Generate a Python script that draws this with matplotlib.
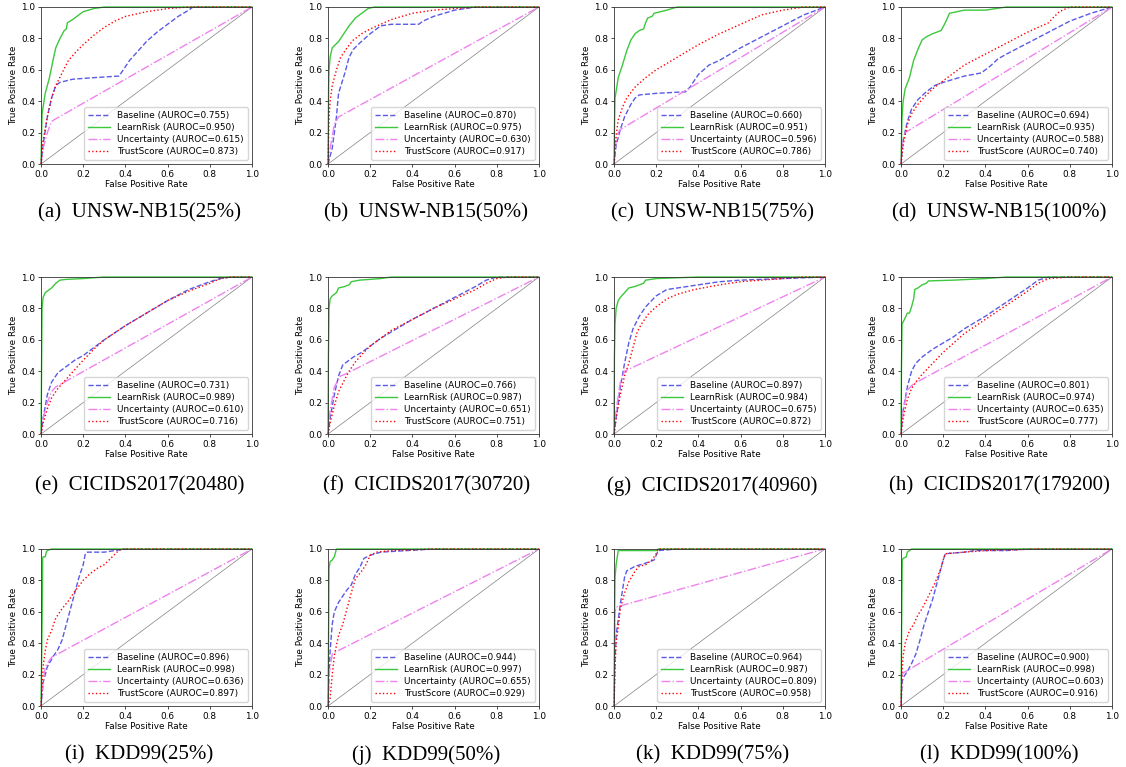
import matplotlib.pyplot as plt
import numpy as np

plt.rcParams['font.family'] = 'DejaVu Sans'

captions = ['(a)  UNSW-NB15(25%)', '(b)  UNSW-NB15(50%)', '(c)  UNSW-NB15(75%)', '(d)  UNSW-NB15(100%)',
            '(e)  CICIDS2017(20480)', '(f)  CICIDS2017(30720)', '(g)  CICIDS2017(40960)', '(h)  CICIDS2017(179200)',
            '(i)  KDD99(25%)', '(j)  KDD99(50%)', '(k)  KDD99(75%)', '(l)  KDD99(100%)']

auroc_base = [0.755, 0.870, 0.660, 0.694, 0.731, 0.766, 0.897, 0.801, 0.896, 0.944, 0.964, 0.900]
auroc_risk = [0.950, 0.975, 0.951, 0.935, 0.989, 0.987, 0.984, 0.974, 0.998, 0.997, 0.987, 0.998]
auroc_unc = [0.615, 0.630, 0.596, 0.588, 0.610, 0.651, 0.675, 0.635, 0.636, 0.655, 0.809, 0.603]
auroc_trust = [0.873, 0.917, 0.786, 0.740, 0.716, 0.751, 0.872, 0.777, 0.897, 0.929, 0.958, 0.916]

# ROC points (fpr, tpr)
# (a) UNSW-NB15 25%
a_base = [(0, 0), (0.01, 0.12), (0.03, 0.3), (0.05, 0.42), (0.07, 0.5), (0.09, 0.52), (0.15, 0.54), (0.25, 0.55),
          (0.37, 0.56), (0.38, 0.58), (0.42, 0.66), (0.5, 0.78), (0.55, 0.84), (0.6, 0.89), (0.65, 0.94), (0.7, 0.98),
          (0.72, 1.0), (1, 1)]
a_risk = [(0, 0), (0.003, 0.2), (0.005, 0.32), (0.02, 0.45), (0.04, 0.55), (0.06, 0.68), (0.07, 0.74), (0.09, 0.8),
          (0.11, 0.85), (0.12, 0.86), (0.125, 0.9), (0.15, 0.92), (0.18, 0.95), (0.2, 0.97), (0.25, 0.99), (0.3, 1.0), (1, 1)]
a_unc = [(0, 0), (0.01, 0.1), (0.03, 0.2), (0.05, 0.27), (0.06, 0.28), (1, 1)]
a_trust = [(0, 0), (0.01, 0.15), (0.03, 0.3), (0.05, 0.42), (0.07, 0.5), (0.1, 0.58), (0.13, 0.66), (0.17, 0.72),
           (0.2, 0.76), (0.25, 0.82), (0.3, 0.87), (0.35, 0.91), (0.4, 0.94), (0.5, 0.97), (0.6, 0.99), (0.7, 1.0), (1, 1)]

# (b) UNSW-NB15 50%
b_base = [(0, 0), (0.02, 0.1), (0.04, 0.3), (0.05, 0.45), (0.08, 0.58), (0.1, 0.68), (0.12, 0.73), (0.15, 0.77),
          (0.2, 0.83), (0.25, 0.88), (0.3, 0.89), (0.43, 0.89), (0.45, 0.91), (0.5, 0.94), (0.55, 0.96), (0.6, 0.98),
          (0.65, 0.99), (0.7, 1.0), (1, 1)]
b_risk = [(0, 0), (0.003, 0.5), (0.005, 0.6), (0.01, 0.68), (0.02, 0.74), (0.05, 0.78), (0.07, 0.82), (0.1, 0.88),
          (0.13, 0.93), (0.17, 0.97), (0.19, 0.99), (0.22, 1.0), (1, 1)]
b_unc = [(0, 0), (0.01, 0.1), (0.03, 0.25), (0.05, 0.3), (1, 1)]
b_trust = [(0, 0), (0.005, 0.3), (0.01, 0.4), (0.02, 0.5), (0.04, 0.6), (0.06, 0.68), (0.09, 0.74), (0.12, 0.79),
           (0.16, 0.83), (0.2, 0.86), (0.25, 0.89), (0.3, 0.92), (0.35, 0.94), (0.4, 0.96), (0.5, 0.98), (0.6, 0.99),
           (0.7, 1.0), (1, 1)]

# (c) UNSW-NB15 75%
c_base = [(0, 0), (0.01, 0.12), (0.03, 0.22), (0.05, 0.3), (0.08, 0.38), (0.1, 0.42), (0.12, 0.44), (0.2, 0.45),
          (0.34, 0.46), (0.36, 0.49), (0.4, 0.57), (0.45, 0.63), (0.5, 0.66), (0.6, 0.74), (0.7, 0.81), (0.8, 0.88),
          (0.9, 0.95), (1, 1)]
c_risk = [(0, 0), (0.003, 0.3), (0.005, 0.42), (0.02, 0.55), (0.04, 0.63), (0.06, 0.72), (0.08, 0.79), (0.1, 0.83),
          (0.12, 0.85), (0.14, 0.86), (0.15, 0.9), (0.16, 0.93), (0.18, 0.94), (0.19, 0.96), (0.22, 0.97), (0.25, 0.98),
          (0.3, 1.0), (1, 1)]
c_unc = [(0, 0), (0.01, 0.15), (0.02, 0.2), (0.03, 0.22), (1, 1)]
c_trust = [(0, 0), (0.01, 0.18), (0.02, 0.28), (0.04, 0.36), (0.06, 0.42), (0.1, 0.49), (0.15, 0.55), (0.2, 0.6),
           (0.3, 0.68), (0.4, 0.76), (0.5, 0.83), (0.6, 0.89), (0.7, 0.95), (0.8, 0.98), (0.9, 1.0), (1, 1)]

# (d) UNSW-NB15 100%
d_base = [(0, 0), (0.01, 0.15), (0.03, 0.27), (0.05, 0.35), (0.08, 0.41), (0.12, 0.46), (0.16, 0.5), (0.2, 0.52),
          (0.3, 0.56), (0.38, 0.58), (0.42, 0.62), (0.46, 0.67), (0.5, 0.7), (0.6, 0.77), (0.7, 0.84), (0.8, 0.91),
          (0.9, 0.96), (1, 1)]
d_risk = [(0, 0), (0.003, 0.2), (0.005, 0.3), (0.01, 0.4), (0.02, 0.48), (0.04, 0.55), (0.06, 0.66), (0.08, 0.73),
          (0.1, 0.79), (0.12, 0.81), (0.15, 0.83), (0.19, 0.85), (0.21, 0.9), (0.23, 0.96), (0.3, 0.98), (0.4, 0.98),
          (0.45, 0.99), (0.5, 1.0), (1, 1)]
d_unc = [(0, 0), (0.005, 0.12), (0.02, 0.2), (1, 1)]
d_trust = [(0, 0), (0.01, 0.12), (0.03, 0.25), (0.05, 0.32), (0.08, 0.38), (0.12, 0.44), (0.16, 0.49), (0.2, 0.53),
           (0.25, 0.58), (0.3, 0.63), (0.4, 0.7), (0.5, 0.77), (0.6, 0.84), (0.7, 0.9), (0.72, 0.93), (0.75, 0.97),
           (0.8, 1.0), (1, 1)]

# (e) CICIDS2017 20480
e_base = [(0, 0), (0.01, 0.1), (0.03, 0.25), (0.05, 0.33), (0.08, 0.39), (0.12, 0.43), (0.16, 0.47), (0.2, 0.5),
          (0.25, 0.55), (0.3, 0.6), (0.4, 0.69), (0.5, 0.77), (0.6, 0.85), (0.7, 0.92), (0.8, 0.97), (0.85, 0.99),
          (0.9, 1.0), (1, 1)]
e_risk = [(0, 0), (0.002, 0.3), (0.005, 0.8), (0.01, 0.87), (0.02, 0.9), (0.03, 0.91), (0.05, 0.93), (0.07, 0.96),
          (0.09, 0.98), (0.12, 0.985), (0.2, 0.99), (0.3, 1.0), (1, 1)]
e_unc = [(0, 0), (0.01, 0.1), (0.03, 0.2), (0.05, 0.27), (0.07, 0.3), (1, 1)]
e_trust = [(0, 0), (0.01, 0.07), (0.03, 0.16), (0.05, 0.23), (0.08, 0.29), (0.12, 0.35), (0.16, 0.41), (0.2, 0.47),
           (0.25, 0.54), (0.3, 0.6), (0.4, 0.69), (0.5, 0.77), (0.6, 0.85), (0.7, 0.91), (0.8, 0.96), (0.85, 0.99),
           (0.9, 1.0), (1, 1)]

# (f) CICIDS2017 30720
f_base = [(0, 0), (0.01, 0.1), (0.03, 0.25), (0.05, 0.37), (0.07, 0.44), (0.09, 0.46), (0.12, 0.49), (0.16, 0.52),
          (0.2, 0.56), (0.25, 0.61), (0.3, 0.65), (0.4, 0.73), (0.5, 0.8), (0.6, 0.87), (0.7, 0.94), (0.75, 0.98),
          (0.8, 1.0), (1, 1)]
f_risk = [(0, 0), (0.002, 0.5), (0.005, 0.8), (0.01, 0.86), (0.02, 0.88), (0.04, 0.9), (0.05, 0.93), (0.08, 0.94),
          (0.1, 0.95), (0.11, 0.97), (0.15, 0.98), (0.25, 0.99), (0.3, 1.0), (1, 1)]
f_unc = [(0, 0), (0.01, 0.15), (0.03, 0.3), (0.06, 0.37), (0.08, 0.38), (1, 1)]
f_trust = [(0, 0), (0.01, 0.07), (0.03, 0.18), (0.05, 0.27), (0.08, 0.35), (0.1, 0.4), (0.13, 0.46), (0.17, 0.52),
           (0.2, 0.56), (0.25, 0.61), (0.3, 0.66), (0.4, 0.73), (0.5, 0.8), (0.6, 0.86), (0.7, 0.92), (0.75, 0.96),
           (0.8, 0.99), (0.85, 1.0), (1, 1)]

# (g) CICIDS2017 40960
g_base = [(0, 0), (0.01, 0.1), (0.02, 0.2), (0.03, 0.3), (0.05, 0.45), (0.07, 0.58), (0.09, 0.67), (0.12, 0.75),
          (0.15, 0.81), (0.2, 0.88), (0.25, 0.92), (0.3, 0.93), (0.4, 0.95), (0.5, 0.97), (0.6, 0.98), (0.8, 0.99), (1, 1)]
g_risk = [(0, 0), (0.002, 0.5), (0.005, 0.7), (0.01, 0.8), (0.02, 0.85), (0.03, 0.87), (0.05, 0.9), (0.07, 0.93),
          (0.1, 0.94), (0.12, 0.95), (0.14, 0.96), (0.15, 0.98), (0.2, 0.99), (0.4, 1.0), (1, 1)]
g_unc = [(0, 0), (0.01, 0.15), (0.03, 0.33), (0.05, 0.4), (1, 1)]
g_trust = [(0, 0), (0.01, 0.1), (0.03, 0.25), (0.05, 0.37), (0.07, 0.45), (0.09, 0.55), (0.11, 0.65), (0.13, 0.7),
           (0.16, 0.76), (0.2, 0.81), (0.25, 0.86), (0.3, 0.89), (0.38, 0.92), (0.5, 0.95), (0.6, 0.97), (0.7, 0.98),
           (0.8, 0.99), (0.9, 1.0), (1, 1)]

# (h) CICIDS2017 179200
h_base = [(0, 0), (0.01, 0.15), (0.03, 0.3), (0.05, 0.4), (0.07, 0.45), (0.1, 0.49), (0.15, 0.54), (0.2, 0.58),
          (0.25, 0.62), (0.3, 0.67), (0.4, 0.75), (0.5, 0.84), (0.6, 0.93), (0.65, 0.98), (0.7, 1.0), (1, 1)]
h_risk = [(0, 0), (0.002, 0.4), (0.005, 0.7), (0.02, 0.74), (0.03, 0.77), (0.04, 0.77), (0.05, 0.81), (0.06, 0.86),
          (0.065, 0.92), (0.08, 0.93), (0.1, 0.95), (0.12, 0.96), (0.13, 0.975), (0.25, 0.98), (0.4, 0.99), (0.5, 1.0), (1, 1)]
h_unc = [(0, 0), (0.01, 0.15), (0.03, 0.28), (0.06, 0.32), (1, 1)]
h_trust = [(0, 0), (0.01, 0.1), (0.03, 0.22), (0.05, 0.29), (0.07, 0.33), (0.1, 0.38), (0.15, 0.45), (0.2, 0.52),
           (0.25, 0.58), (0.3, 0.64), (0.4, 0.73), (0.5, 0.82), (0.6, 0.91), (0.65, 0.96), (0.7, 0.99), (0.8, 1.0), (1, 1)]

# (i) KDD99 25%
i_base = [(0, 0), (0.01, 0.15), (0.03, 0.25), (0.06, 0.32), (0.08, 0.36), (0.1, 0.42), (0.12, 0.52), (0.14, 0.62),
          (0.16, 0.72), (0.18, 0.82), (0.2, 0.9), (0.21, 0.97), (0.22, 0.98), (0.3, 0.98), (0.35, 0.99), (0.4, 1.0), (1, 1)]
i_risk = [(0, 0), (0.005, 0.5), (0.008, 0.94), (0.01, 0.95), (0.02, 0.95), (0.025, 0.98), (0.03, 0.99), (0.05, 1.0), (1, 1)]
i_unc = [(0, 0), (0.01, 0.15), (0.02, 0.25), (0.05, 0.31), (1, 1)]
i_trust = [(0, 0), (0.01, 0.25), (0.02, 0.35), (0.03, 0.42), (0.05, 0.48), (0.07, 0.56), (0.1, 0.62), (0.13, 0.67),
           (0.16, 0.73), (0.2, 0.8), (0.23, 0.84), (0.27, 0.88), (0.3, 0.9), (0.33, 0.94), (0.36, 0.98), (0.38, 1.0), (1, 1)]

# (j) KDD99 50%
j_base = [(0, 0), (0.005, 0.2), (0.01, 0.35), (0.02, 0.52), (0.03, 0.6), (0.05, 0.66), (0.07, 0.7), (0.09, 0.74),
          (0.11, 0.77), (0.13, 0.84), (0.15, 0.88), (0.17, 0.94), (0.2, 0.96), (0.25, 0.98), (0.5, 1.0), (1, 1)]
j_risk = [(0, 0), (0.003, 0.5), (0.005, 0.88), (0.01, 0.92), (0.02, 0.93), (0.03, 0.95), (0.04, 1.0), (1, 1)]
j_unc = [(0, 0), (0.005, 0.2), (0.02, 0.33), (0.03, 0.34), (1, 1)]
j_trust = [(0, 0), (0.01, 0.05), (0.02, 0.2), (0.03, 0.32), (0.05, 0.45), (0.07, 0.52), (0.09, 0.62), (0.11, 0.72),
           (0.13, 0.81), (0.16, 0.86), (0.18, 0.9), (0.2, 0.96), (0.23, 0.98), (0.3, 0.99), (0.5, 1.0), (1, 1)]

# (k) KDD99 75%
k_base = [(0, 0), (0.005, 0.3), (0.01, 0.45), (0.02, 0.55), (0.03, 0.65), (0.05, 0.82), (0.06, 0.86), (0.1, 0.89),
          (0.15, 0.91), (0.19, 0.93), (0.2, 0.96), (0.21, 0.99), (0.3, 1.0), (1, 1)]
k_risk = [(0, 0), (0.003, 0.6), (0.005, 0.82), (0.01, 0.9), (0.02, 0.99), (0.2, 0.99), (0.21, 1.0), (1, 1)]
k_unc = [(0, 0), (0.005, 0.6), (0.01, 0.63), (0.97, 0.99), (1, 1)]
k_trust = [(0, 0), (0.005, 0.25), (0.01, 0.4), (0.02, 0.5), (0.03, 0.62), (0.05, 0.72), (0.07, 0.79), (0.1, 0.86),
           (0.12, 0.89), (0.15, 0.9), (0.18, 0.93), (0.2, 0.97), (0.21, 1.0), (1, 1)]

# (l) KDD99 100%
l_base = [(0, 0), (0.005, 0.15), (0.01, 0.18), (0.03, 0.22), (0.05, 0.27), (0.07, 0.33), (0.09, 0.42), (0.11, 0.52),
          (0.13, 0.6), (0.15, 0.68), (0.17, 0.78), (0.19, 0.88), (0.2, 0.93), (0.21, 0.97), (0.3, 0.98), (0.35, 0.99),
          (0.5, 0.99), (0.6, 1.0), (1, 1)]
l_risk = [(0, 0), (0.003, 0.5), (0.006, 0.93), (0.01, 0.94), (0.025, 0.95), (0.03, 0.98), (0.04, 0.99), (0.05, 1.0), (1, 1)]
l_unc = [(0, 0), (0.005, 0.2), (0.01, 0.21), (1, 1)]
l_trust = [(0, 0), (0.005, 0.22), (0.01, 0.32), (0.02, 0.4), (0.04, 0.48), (0.06, 0.52), (0.08, 0.58), (0.1, 0.62),
           (0.13, 0.7), (0.16, 0.78), (0.19, 0.88), (0.2, 0.93), (0.21, 0.97), (0.3, 0.98), (0.4, 0.99), (0.65, 1.0), (1, 1)]

panels = [(a_base, a_risk, a_unc, a_trust), (b_base, b_risk, b_unc, b_trust),
          (c_base, c_risk, c_unc, c_trust), (d_base, d_risk, d_unc, d_trust),
          (e_base, e_risk, e_unc, e_trust), (f_base, f_risk, f_unc, f_trust),
          (g_base, g_risk, g_unc, g_trust), (h_base, h_risk, h_unc, h_trust),
          (i_base, i_risk, i_unc, i_trust), (j_base, j_risk, j_unc, j_trust),
          (k_base, k_risk, k_unc, k_trust), (l_base, l_risk, l_unc, l_trust)]

W, H = 1126, 767
col_left = [41, 328, 614, 901]
row_top = [7, 277, 549]
ax_w, ax_h = 211, 157
caption_y = [213, 486, 755]

fs = 6.4
fig = plt.figure(figsize=(W / 100, H / 100), dpi=100)

for k, (base, risk, unc, trust) in enumerate(panels):
    r, c = divmod(k, 4)
    ax = fig.add_axes([col_left[c] / W, 1 - (row_top[r] + ax_h) / H, ax_w / W, ax_h / H])
    ax.plot([0, 1], [0, 1], color='grey', lw=0.5)
    styles = [(base, '--', '#5a5ae6', 'Baseline', auroc_base[k]),
              (risk, '-', '#3cc83c', 'LearnRisk', auroc_risk[k]),
              (unc, '-.', 'violet', 'Uncertainty', auroc_unc[k]),
              (trust, ':', 'red', 'TrustScore', auroc_trust[k])]
    for pts, ls, col, name, auc in styles:
        pts = np.array(pts)
        ax.plot(pts[:, 0], pts[:, 1], ls, color=col, lw=1.0, clip_on=False,
                label=f'{name} (AUROC={auc:.3f})')
    ax.set_xlim(0, 1.0)
    ax.set_ylim(0, 1.0)
    ax.set_xticks(np.linspace(0, 1, 6))
    ax.set_yticks(np.linspace(0, 1, 6))
    ax.tick_params(labelsize=fs, length=2.5, width=0.5, pad=1.5)
    for s in ax.spines.values():
        s.set_linewidth(0.6)
        s.set_color('#333333')
    ax.set_xlabel('False Positive Rate', fontsize=fs, labelpad=1)
    ax.set_ylabel('True Positive Rate', fontsize=fs, labelpad=2)
    ax.legend(loc='lower right', fontsize=fs, handlelength=2.5, labelspacing=0.35, borderpad=0.4)
    fig.text((col_left[c] + ax_w / 2 - 7) / W, 1 - caption_y[r] / H, captions[k],
             family='Liberation Serif', fontsize=15, ha='center', va='center')

fig.savefig('out.png', dpi=100)
